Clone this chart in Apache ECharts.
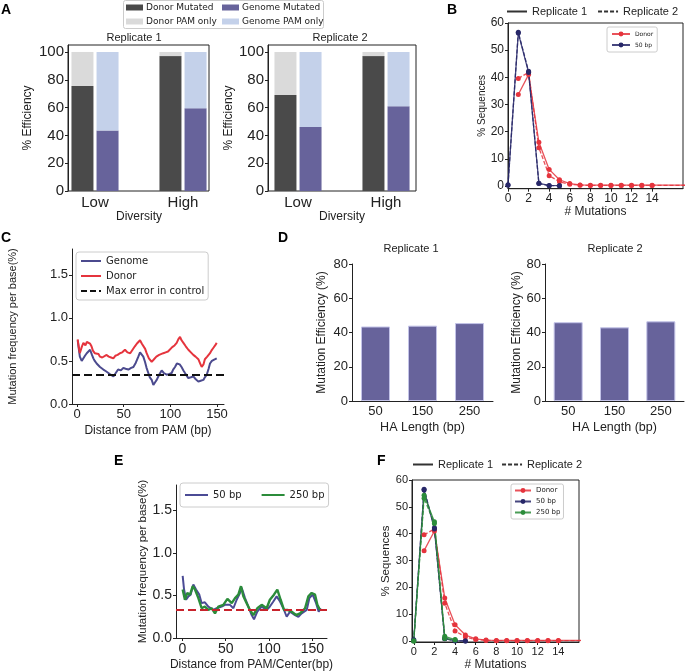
<!DOCTYPE html>
<html lang="en">
<head>
<meta charset="UTF-8">
<title>Mutation efficiency panels</title>
<script src="https://cdn.jsdelivr.net/npm/echarts@6/dist/echarts.min.js"></script>
<style>
  html, body { margin: 0; padding: 0; background: #fff; }
  #chart { width: 685px; height: 672px; }
</style>
</head>
<body>
<div id="chart"></div>
<script>
// A: efficiency by library diversity
const diversity = ['Low', 'High'];
const donorMut1 = [75.5, 97];
const donorPam1 = [24.5, 3];
const genomeMut1 = [43.5, 59.5];
const genomePam1 = [56.5, 40.5];
const donorMut2 = [69, 97];
const donorPam2 = [31, 3];
const genomeMut2 = [46, 61];
const genomePam2 = [54, 39];

// B / F: number of mutations per sequence, [mutations, % sequences]
const donorRep1 = [[1,33.7],[2,41],[3,16.1],[4,6.1],[5,2.3],[6,0.9],[7,0.4],[8,0.3],[9,0.3],[10,0.3],[11,0.3],[12,0.3],[13,0.3],[14,0.3],[25,0.3]];
const donorRep2 = [[1,39.6],[2,41.8],[3,14.1],[4,3.8],[5,1.6],[6,0.6],[7,0.3],[8,0.2],[9,0.2],[10,0.2],[11,0.2],[12,0.2],[13,0.2],[14,0.2],[25,0.2]];
const bp50Rep1 = [[0,0.5],[1,56.3],[2,41.8],[3,1.0],[4,0.2],[5,0.1]];
const bp50Rep2 = [[0,0.3],[1,56.6],[2,42.2],[3,0.9],[4,0.1],[5,0.1]];
const bp250Rep1 = [[0,0],[1,54.3],[2,44.5],[3,1.8],[4,0.6]];
const bp250Rep2 = [[0,0.2],[1,53.2],[2,43.8],[3,1.0],[4,0.4]];

// C: per-base mutation frequency, [distance from PAM, %]
const cGenome = [[0.7,0.74],[3,0.55],[5,0.5],[6.8,0.51],[8.5,0.56],[10.4,0.59],[12,0.6],[14,0.63],[16,0.57],[17.5,0.53],[19,0.5],[21,0.47],[23,0.45],[24.6,0.43],[26.5,0.42],[28.2,0.4],[31,0.38],[33.6,0.36],[36,0.34],[39,0.32],[41.5,0.36],[44,0.4],[47,0.39],[49.6,0.42],[52,0.41],[55,0.4],[58,0.42],[60.4,0.43],[63,0.48],[65.7,0.55],[67.5,0.6],[69,0.61],[71,0.55],[72.8,0.49],[74.5,0.42],[76.4,0.36],[78,0.31],[80,0.28],[81.8,0.22],[83.5,0.25],[85.4,0.28],[88,0.34],[90.7,0.39],[93,0.36],[96,0.34],[99,0.35],[101.4,0.36],[103,0.4],[105,0.43],[107,0.47],[108.6,0.49],[110,0.46],[112,0.43],[114,0.39],[115.7,0.36],[117.5,0.33],[119.3,0.3],[122,0.31],[124.6,0.32],[127,0.29],[130,0.26],[132.5,0.27],[135.4,0.28],[137,0.31],[139,0.34],[141,0.41],[142.5,0.47],[144.5,0.5],[146,0.51],[148,0.52],[149.7,0.53]];
const cDonor = [[0.7,0.75],[2,0.65],[3,0.59],[5,0.66],[6.8,0.71],[9,0.68],[10.5,0.72],[12,0.74],[14,0.7],[15.5,0.67],[17,0.62],[19,0.59],[21,0.57],[23,0.58],[24.6,0.55],[27,0.54],[29,0.56],[31.7,0.57],[34,0.55],[36.5,0.54],[38.9,0.53],[41,0.56],[43.5,0.57],[46,0.59],[48.5,0.6],[51.4,0.63],[54,0.6],[57,0.59],[59.5,0.63],[62,0.67],[64,0.7],[66,0.72],[67.5,0.74],[69.5,0.7],[71,0.71],[73,0.64],[74.6,0.59],[77,0.53],[80,0.49],[82.5,0.52],[85,0.55],[88,0.57],[90,0.56],[92.5,0.59],[95,0.6],[97.5,0.61],[99.6,0.63],[102,0.66],[104.5,0.68],[106.8,0.71],[108.5,0.75],[110.4,0.78],[112,0.74],[114,0.71],[116.5,0.67],[119.3,0.63],[122,0.6],[124.6,0.57],[127,0.55],[130,0.52],[132,0.47],[133.6,0.43],[135.5,0.46],[137,0.52],[139.5,0.55],[142.5,0.59],[144,0.62],[146,0.65],[148,0.68],[149.7,0.71]];
const cCtrlErr = 0.335;

// D: mutation efficiency by homology arm length
const haLength = ['50', '150', '250'];
const haEff1 = [43.5, 44, 45.5];
const haEff2 = [46, 43, 46.5];

// E: per-base mutation frequency for two HA lengths
const e50 = [[0.4,0.73],[2,0.57],[4.3,0.45],[7,0.49],[9.6,0.51],[12.7,0.63],[15.8,0.57],[19.6,0.51],[22.3,0.41],[26,0.42],[30,0.37],[33,0.35],[35.8,0.33],[39.6,0.35],[45.4,0.37],[49.2,0.39],[55,0.39],[58.9,0.35],[62.7,0.45],[66.5,0.53],[68.5,0.59],[72.3,0.47],[76.2,0.37],[80,0.27],[82.7,0.22],[86.5,0.31],[91.5,0.37],[97.3,0.33],[101,0.37],[105,0.43],[108.8,0.49],[112.7,0.43],[116.5,0.35],[120.4,0.25],[124.2,0.31],[130,0.27],[133.9,0.25],[137.7,0.29],[143.5,0.33],[146.6,0.47],[150.4,0.51],[154.3,0.41],[157.3,0.31],[159.6,0.35]];
const e250 = [[0.4,0.57],[3,0.45],[5.8,0.53],[8.9,0.51],[12,0.61],[14.6,0.57],[18.5,0.47],[22.3,0.35],[26,0.37],[30,0.33],[33.9,0.35],[37.7,0.29],[41.6,0.37],[47.3,0.39],[52,0.46],[57,0.41],[60.8,0.47],[64.6,0.51],[67.7,0.61],[70.4,0.49],[74.2,0.41],[78,0.33],[81.9,0.27],[86.5,0.35],[91.5,0.39],[97.3,0.35],[101,0.45],[105.7,0.51],[109.6,0.57],[113.4,0.45],[117.3,0.33],[121.2,0.33],[126.2,0.31],[131.2,0.27],[135.8,0.29],[141.6,0.35],[145.4,0.49],[149.2,0.53],[153.1,0.51],[155.8,0.39],[158.9,0.33]];
const eCtrlErr = 0.33;

const SANS = 'Liberation Sans, Arial, sans-serif';
const DJ = 'DejaVu Sans, sans-serif';
const INK = '#222';
const C_DARK = '#4a4a4a', C_LGRAY = '#dadada', C_PURPLE = '#67639b', C_LBLUE = '#c4d1ea';
const C_RED = '#e5343d', C_NAVY = '#272768', C_GREEN = '#2b8c3a';

function axis(gridIndex, min, max, ticks, size, fmt, name, gap, nameSize) {
  return {
    type: 'value', gridIndex, min, max,
    splitLine: { show: false },
    axisLine: { show: true, onZero: false, lineStyle: { color: INK, width: 1 } },
    axisTick: { show: true, length: 3, customValues: ticks, lineStyle: { color: INK } },
    axisLabel: { customValues: ticks, fontSize: size, fontFamily: SANS, color: INK, margin: 4, formatter: fmt },
    name, nameLocation: 'middle', nameGap: gap,
    nameTextStyle: { fontFamily: SANS, fontSize: nameSize, color: INK }
  };
}
function catAxis(gridIndex, data, size, name, gap, nameSize, showLine) {
  return {
    type: 'category', gridIndex, data,
    axisLine: { show: showLine, lineStyle: { color: INK } },
    axisTick: { alignWithLabel: true, length: 3, lineStyle: { color: INK } },
    axisLabel: { fontSize: size, fontFamily: SANS, color: INK, margin: 4 },
    name, nameLocation: 'middle', nameGap: gap,
    nameTextStyle: { fontFamily: SANS, fontSize: nameSize, color: INK }
  };
}
function hidden(gridIndex, min, max) { return { type: 'value', gridIndex, min, max, show: false, splitLine: { show: false } }; }

const pct20 = [0, 20, 40, 60, 80, 100];
const seqTicks = [0, 10, 20, 30, 40, 50, 60];
const mutTicks = [0, 2, 4, 6, 8, 10, 12, 14];
const distTicks = [0, 50, 100, 150];
const freqTicks = [0, 0.5, 1.0, 1.5];
const fix1 = v => v.toFixed(1);
const strip = n => n.split('|')[1];

function tail(arr) { return arr.map(p => p[0] > 17 ? { value: p, symbol: 'none' } : p); }

function aBar(name, data, stack, color, xi) {
  return { type: 'bar', name, data, stack, xAxisIndex: xi, yAxisIndex: xi,
    barWidth: 22, barGap: '14%', itemStyle: { color } };
}
function distLine(name, data, color, dashed, xi) {
  return { type: 'line', name, data: tail(data), xAxisIndex: xi, yAxisIndex: xi,
    symbol: 'circle', symbolSize: 5, color,
    lineStyle: { color, width: 1.3, type: dashed ? [4, 2] : 'solid', opacity: 0.85 },
    itemStyle: { color } };
}
function legendOnly(name, color, type, xi, width) {
  return { type: 'line', name, data: [], xAxisIndex: xi, yAxisIndex: xi, symbol: 'none', color,
    lineStyle: { color, type, width: width || 1.5 } };
}
const boxed = { backgroundColor: '#fff', borderColor: '#cccccc', borderWidth: 1, selectedMode: false, formatter: strip };
const noMarker = { opacity: 0 };

const chart = echarts.init(document.getElementById('chart'), null, { renderer: 'canvas' });
chart.setOption({
  animation: false,
  backgroundColor: '#fff',
  title: [
    { text: 'A', left: 1, top: 3 }, { text: 'B', left: 447, top: 3 },
    { text: 'C', left: 1, top: 231 }, { text: 'D', left: 278, top: 231 },
    { text: 'E', left: 114, top: 454 }, { text: 'F', left: 377, top: 454 },
  ].map(t => Object.assign(t, { padding: 0, textStyle: { fontFamily: SANS, fontSize: 14, fontWeight: 'bold', color: '#000' } }))
  .concat([
    { text: 'Replicate 1', left: 134, top: 32 }, { text: 'Replicate 2', left: 340, top: 32 },
    { text: 'Replicate 1', left: 411, top: 243 }, { text: 'Replicate 2', left: 615, top: 243 },
  ].map(t => Object.assign(t, { padding: 0, textAlign: 'center', textStyle: { fontFamily: SANS, fontSize: 11, fontWeight: 'normal', color: INK } }))),
  graphic: [{ type: 'rect', shape: { x: 123.5, y: 0.5, width: 200, height: 28, r: 2 }, style: { fill: '#fff', stroke: '#cccccc', lineWidth: 1 }, z: -1 }],
  legend: [
    { data: ['Donor Mutated', 'Donor PAM only'], orient: 'vertical', left: 126, top: 3, padding: 0,
      icon: 'rect', itemWidth: 17, itemHeight: 6, itemGap: 5, selectedMode: false,
      textStyle: { fontFamily: DJ, fontSize: 9, color: INK, padding: [0, 0, 0, -2] } },
    { data: ['Genome Mutated', 'Genome PAM only'], orient: 'vertical', left: 222, top: 3, padding: 0,
      icon: 'rect', itemWidth: 17, itemHeight: 6, itemGap: 5, selectedMode: false,
      textStyle: { fontFamily: DJ, fontSize: 9, color: INK, padding: [0, 0, 0, -2] } },
    { data: ['b|Replicate 1', 'b|Replicate 2'], left: 506, top: 6, padding: 0, itemWidth: 20, itemHeight: 8, itemGap: 10,
      selectedMode: false, formatter: strip, itemStyle: noMarker, textStyle: { fontFamily: SANS, fontSize: 11, color: INK } },
    Object.assign({ data: ['b|Donor', 'b|50 bp'], orient: 'vertical', left: 607, top: 27, padding: [4, 4], borderRadius: 2,
      itemWidth: 18, itemHeight: 6, itemGap: 5, textStyle: { fontFamily: DJ, fontSize: 6, color: INK } }, boxed),
    Object.assign({ data: ['c|Genome', 'c|Donor', 'c|Max error in control'], orient: 'vertical', left: 76, top: 252, padding: [4, 4],
      borderRadius: 3, itemWidth: 20, itemHeight: 8, itemGap: 5, itemStyle: noMarker,
      textStyle: { fontFamily: DJ, fontSize: 10, color: INK } }, boxed),
    Object.assign({ data: ['e|50 bp', 'e|250 bp'], left: 180, top: 483, padding: [7, 4], borderRadius: 3,
      itemWidth: 23, itemHeight: 8, itemGap: 19, itemStyle: noMarker,
      textStyle: { fontFamily: DJ, fontSize: 10, color: INK } }, boxed),
    { data: ['f|Replicate 1', 'f|Replicate 2'], left: 412, top: 459, padding: 0, itemWidth: 20, itemHeight: 8, itemGap: 8,
      selectedMode: false, formatter: strip, itemStyle: noMarker, textStyle: { fontFamily: SANS, fontSize: 11, color: INK } },
    Object.assign({ data: ['f|Donor', 'f|50 bp', 'f|250 bp'], orient: 'vertical', left: 511, top: 484, padding: [3, 3],
      borderRadius: 2, itemWidth: 16, itemHeight: 6, itemGap: 4,
      textStyle: { fontFamily: DJ, fontSize: 7, color: INK } }, boxed),
  ],
  grid: [
    { left: 68, top: 45, width: 141, height: 146, show: true, borderColor: INK, borderWidth: 1, backgroundColor: 'transparent' },
    { left: 268, top: 45, width: 148, height: 146, show: true, borderColor: INK, borderWidth: 1, backgroundColor: 'transparent' },
    { left: 508, top: 23, width: 175, height: 165.7, show: true, borderColor: INK, borderWidth: 1, backgroundColor: 'transparent' },
    { left: 72, top: 249, width: 152, height: 155 },
    { left: 352, top: 264, width: 141, height: 137 },
    { left: 545, top: 264, width: 139, height: 137 },
    { left: 176, top: 485, width: 151, height: 153.3 },
    { left: 412, top: 480, width: 167, height: 164, show: true, borderColor: INK, borderWidth: 1, backgroundColor: 'transparent' },
    // bar layers for A, wider than the frames so category centres land under the frame
    { left: 51, top: 45, width: 176, height: 146 },
    { left: 254, top: 45, width: 176, height: 146 },
  ],
  xAxis: [
    hidden(0, 0, 1),
    hidden(1, 0, 1),
    axis(2, 0, 17, mutTicks, 12, undefined, '# Mutations', 15, 12),
    axis(3, -5.4, 157.5, distTicks, 13, undefined, 'Distance from PAM (bp)', 21, 12),
    catAxis(4, haLength, 13, 'HA Length (bp)', 20, 12.5, true),
    catAxis(5, haLength, 13, 'HA Length (bp)', 20, 12.5, true),
    axis(6, -7.3, 166.9, distTicks, 14, undefined, 'Distance from PAM/Center(bp)', 21, 12),
    axis(7, -0.17, 16, mutTicks, 11, undefined, '# Mutations', 17, 12),
    catAxis(8, diversity, 15, 'Diversity', 17, 12, false),
    catAxis(9, diversity, 15, 'Diversity', 17, 12, false),
  ],
  yAxis: [
    axis(0, 0, 105, pct20, 15, undefined, '% Efficiency', 34, 12),
    axis(1, 0, 105, pct20, 15, undefined, '% Efficiency', 29, 12),
    axis(2, -1, 60, seqTicks, 12, undefined, '% Sequences', 21, 10),
    axis(3, 0, 1.8, freqTicks, 13, fix1, 'Mutation frequency per base(%)', 54, 11),
    axis(4, 0, 80, pct20.slice(0, 5), 13, undefined, 'Mutation Efficiency (%)', 24, 12),
    axis(5, 0, 80, pct20.slice(0, 5), 13, undefined, 'Mutation Efficiency (%)', 21, 12),
    axis(6, 0, 1.8, freqTicks, 14, fix1, 'Mutation frequency per base(%)', 26, 11.5),
    axis(7, -0.3, 60, seqTicks, 11, undefined, '% Sequences', 19, 11.5),
    hidden(8, 0, 105),
    hidden(9, 0, 105),
  ],
  series: [
    aBar('Donor Mutated', donorMut1, 'd1', C_DARK, 8),
    aBar('Genome Mutated', genomeMut1, 'g1', C_PURPLE, 8),
    aBar('Donor PAM only', donorPam1, 'd1', C_LGRAY, 8),
    aBar('Genome PAM only', genomePam1, 'g1', C_LBLUE, 8),
    aBar('Donor Mutated', donorMut2, 'd2', C_DARK, 9),
    aBar('Genome Mutated', genomeMut2, 'g2', C_PURPLE, 9),
    aBar('Donor PAM only', donorPam2, 'd2', C_LGRAY, 9),
    aBar('Genome PAM only', genomePam2, 'g2', C_LBLUE, 9),

    legendOnly('b|Replicate 1', '#333', 'solid', 2),
    legendOnly('b|Replicate 2', '#333', [4, 2], 2),
    distLine('b|Donor', donorRep1, C_RED, false, 2),
    distLine('b|Donor', donorRep2, C_RED, true, 2),
    distLine('b|50 bp', bp50Rep1, C_NAVY, false, 2),
    distLine('b|50 bp', bp50Rep2, C_NAVY, true, 2),

    { type: 'line', name: 'c|Genome', data: cGenome, xAxisIndex: 3, yAxisIndex: 3, symbol: 'none',
      color: '#4b4a8e', lineStyle: { color: '#4b4a8e', width: 2 },
      markLine: { silent: true, symbol: ['none', 'none'], label: { show: false },
        lineStyle: { color: '#111', type: [8, 4], width: 2 }, data: [{ yAxis: cCtrlErr }] } },
    { type: 'line', name: 'c|Donor', data: cDonor, xAxisIndex: 3, yAxisIndex: 3, symbol: 'none',
      color: C_RED, lineStyle: { color: C_RED, width: 2 } },
    legendOnly('c|Max error in control', '#111', [6, 3], 3, 2),

    { type: 'bar', data: haEff1, xAxisIndex: 4, yAxisIndex: 4, barWidth: 29,
      itemStyle: { color: C_PURPLE, borderColor: '#c3c3e8', borderWidth: 1 } },
    { type: 'bar', data: haEff2, xAxisIndex: 5, yAxisIndex: 5, barWidth: 29,
      itemStyle: { color: C_PURPLE, borderColor: '#c3c3e8', borderWidth: 1 } },

    { type: 'line', name: 'e|50 bp', data: e50, xAxisIndex: 6, yAxisIndex: 6, symbol: 'none',
      color: '#4b4b95', lineStyle: { color: '#4b4b95', width: 2 },
      markLine: { silent: true, symbol: ['none', 'none'], label: { show: false },
        lineStyle: { color: '#c8232c', type: [8, 4], width: 2 }, data: [{ yAxis: eCtrlErr }] } },
    { type: 'line', name: 'e|250 bp', data: e250, xAxisIndex: 6, yAxisIndex: 6, symbol: 'none',
      color: C_GREEN, lineStyle: { color: C_GREEN, width: 2.4 } },

    legendOnly('f|Replicate 1', '#333', 'solid', 7),
    legendOnly('f|Replicate 2', '#333', [4, 2], 7),
    distLine('f|Donor', donorRep1, C_RED, false, 7),
    distLine('f|Donor', donorRep2, C_RED, true, 7),
    distLine('f|50 bp', bp50Rep1, C_NAVY, false, 7),
    distLine('f|50 bp', bp50Rep2, C_NAVY, true, 7),
    distLine('f|250 bp', bp250Rep1, C_GREEN, false, 7),
    distLine('f|250 bp', bp250Rep2, C_GREEN, true, 7),
  ]
});
</script>
</body>
</html>
